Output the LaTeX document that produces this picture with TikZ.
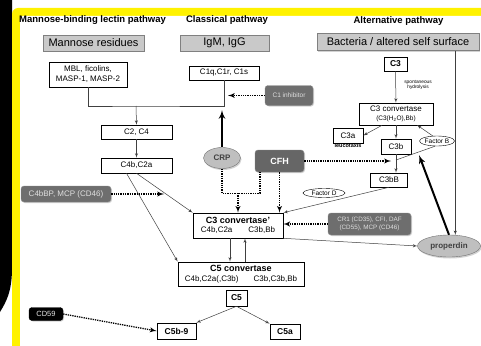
\documentclass[tikz,border=0pt]{standalone}
\usepackage{fontspec}
\setmainfont{Liberation Sans}
\usetikzlibrary{arrows,shapes.geometric,shadows,calc}

\begin{document}
\begin{tikzpicture}[x=1pt,y=-1pt]
  \tikzset{box/.style = {draw, fill=white, line width=0.6pt, inner sep=1pt, align=center, font=\fontsize{8}{9.5}\selectfont}}
  \tikzset{source/.style = {draw=black!50, fill=black!21, line width=0.6pt, minimum height=16pt, inner sep=0pt, font=\fontsize{11}{12}\selectfont, drop shadow={shadow xshift=1.2pt,shadow yshift=-1.2pt,opacity=0.35}}}
  \tikzset{inhibitor/.style = {rounded corners=3pt, fill=black!57, draw=black!45, text=black!12, align=center, inner sep=1pt, drop shadow={shadow xshift=1pt,shadow yshift=-1pt,opacity=0.35}}}
  \tikzset{blob/.style = {ellipse, draw=black!55, fill=black!25, inner sep=0pt, text=black!75, font=\bfseries\fontsize{8}{9}\selectfont, drop shadow={shadow xshift=1pt,shadow yshift=-1.5pt,opacity=0.35}}}
  \tikzset{tag/.style = {ellipse, draw, fill=white, inner sep=0pt, font=\fontsize{6.5}{7}\selectfont}}
  \tikzset{title/.style = {inner sep=0pt, font=\bfseries\fontsize{9.5}{10}\selectfont}}
  \tikzset{link/.style = {->, >=latex', draw=black!75, line width=0.5pt}}
  \tikzset{block/.style = {->, >=latex', line width=1.3pt, densely dotted}}
  \tikzset{boost/.style = {->, >=latex', line width=2pt}}

  % frame
  \useasboundingbox (0,0) rectangle (481,345);
  \begin{scope}
    \clip (0,0) rectangle (481,345);
    \fill[white] (0,0) rectangle (481,345);
    \fill[black] (0,0) -- (12,0) -- (12,268) .. controls (12,292) and (6,302) .. (0,312) -- cycle;
    \fill[yellow, rounded corners=6pt] (12,8) rectangle (500,360);
    \fill[white, rounded corners=3pt] (20,16) rectangle (500,360);
  \end{scope}

  \node[title, anchor=west] (tmbl) at (19,20) {Mannose-binding lectin pathway};
  \node[title] (tcls) at (227,20) {Classical pathway};
  \node[title] (talt) at (398.5,21) {Alternative pathway};

  \node[source, minimum width=101pt] (mann) at (93.5,43) {Mannose residues};
  \node[source, minimum width=89pt] (igm) at (224.5,43) {IgM, IgG};
  \node[source, minimum width=162pt, minimum height=17pt] (bact) at (398,42) {Bacteria / altered self surface};

  % lectin and classical side
  \node[box, minimum width=78pt, minimum height=25pt, font=\fontsize{8}{10}\selectfont] (mbl) at (88,74.5) {MBL, ficolins,\\MASP-1, MASP-2};
  \node[box, minimum width=70pt, minimum height=14pt] (c1q) at (224,73) {C1q,C1r, C1s};
  \node[inhibitor, minimum width=48pt, minimum height=20pt, font=\fontsize{6.5}{7}\selectfont] (c1inh) at (289,95.5) {C1 inhibitor};
  \node[box, minimum width=71pt, minimum height=14pt] (c2c4) at (136.5,132) {C2, C4};
  \node[box, minimum width=71pt, minimum height=15pt] (c4b) at (136.5,165.5) {C4b,C2a};
  \node[inhibitor, minimum width=90pt, minimum height=16pt, font=\fontsize{8}{9}\selectfont] (c4bbp) at (66,194) {C4bBP, MCP (CD46)};
  \node[blob, minimum width=37pt, minimum height=21pt] (crp) at (222,158) {CRP};
  \node[inhibitor, fill=black!60, text=white, minimum width=49pt, minimum height=22pt, font=\bfseries\fontsize{9}{10}\selectfont] (cfh) at (279.5,161) {CFH};

  \node[box, minimum width=90pt, minimum height=25pt] (cvc3) at (238,225.5) {{\bfseries\fontsize{9}{10}\selectfont C3 convertase'}\\C4b,C2a\hspace{16pt}C3b,Bb};
  \node[inhibitor, minimum width=83pt, minimum height=22pt, font=\fontsize{6.3}{7.5}\selectfont] (cr1) at (369.5,224) {CR1 (CD35), CFI, DAF\\(CD55), MCP (CD46)};
  \node[box, minimum width=126pt, minimum height=24pt] (cvc5) at (241,274) {{\bfseries\fontsize{9}{10}\selectfont C5 convertase}\\C4b,C2a(,C3b)\hspace{15pt}C3b,C3b,Bb};
  \node[box, minimum width=21pt, minimum height=16pt, font=\bfseries\fontsize{8.5}{9}\selectfont] (c5) at (236.5,298) {C5};
  \node[box, minimum width=39pt, minimum height=16pt, font=\bfseries\fontsize{8.5}{9}\selectfont] (c5b9) at (176.5,331) {C5b-9};
  \node[box, minimum width=30pt, minimum height=15pt, font=\bfseries\fontsize{8.5}{9}\selectfont] (c5a) at (285,331.5) {C5a};
  \node[inhibitor, fill=black, draw=black, text=black!10, minimum width=34pt, minimum height=13pt, font=\fontsize{7.5}{8}\selectfont] (cd59) at (46,314) {CD59};

  % alternative side
  \node[box, minimum width=23pt, minimum height=14pt, font=\bfseries\fontsize{8.5}{9}\selectfont] (c3) at (395.5,64) {C3};
  \node[align=center, inner sep=0pt, font=\fontsize{4.8}{5.5}\selectfont] (hydro) at (418,85) {spontaneous\\hydrolysis};
  \node[box, minimum width=74pt, minimum height=22pt] (cvalt) at (396,114) {C3 convertase\\{\fontsize{6.5}{7}\selectfont (C3(H\textsubscript{2}O),Bb)}};
  \node[box, minimum width=30pt, minimum height=15pt] (c3a) at (348,135.5) {C3a};
  \node[anchor=north, inner sep=0.5pt, font=\bfseries\fontsize{5.5}{6}\selectfont] (leuco) at (c3a.south) {leucotaxis};
  \node[box, minimum width=30pt, minimum height=15pt] (c3b) at (396,146.5) {C3b};
  \node[box, minimum width=37pt, minimum height=14pt] (c3bb) at (389,180) {C3bB};
  \node[tag, minimum width=35pt, minimum height=10pt] (facb) at (437,141) {Factor B};
  \node[tag, minimum width=42pt, minimum height=9pt] (facd) at (324,193) {Factor D};
  \node[blob, minimum width=63pt, minimum height=22pt] (prop) at (449,246) {properdin};

  \coordinate (join) at (136,106);
  \coordinate (c1tip) at (228,95.5);
  \coordinate (crptip) at (222,110);
  \coordinate (bptip) at (164,194);
  \coordinate (hub) at (238,193);
  \coordinate (fbj) at (396,160);
  \coordinate (fbin) at (417,125);
  \coordinate (cfhtip) at (391,161);
  \coordinate (proptip) at (419,155);

  \draw[draw=black!75, line width=0.5pt] (mbl.south) |- (join) -| (c1q.south);
  \draw[link] (join) -- (c2c4.north);
  \draw[link] (c2c4) -- (c4b);
  \draw[link] (c4b.south) -- (cvc3.north west);
  \draw[link] ($(c4b.south)+(-10,0)$) -- (cvc5.north west);
  \draw[block] (c1inh.west) -- (c1tip);
  \draw[block] (c4bbp.east) -- (bptip);
  \draw[boost] (crp.north) -- (crptip);

  \draw[line width=1.3pt, densely dotted] (crp.south) |- ($(cfh.south)+(-19.5,21)$) -- ($(cfh.south)+(-19.5,0)$);
  \draw[block] (hub) -- (hub |- cvc3.north);
  \draw[block] (cfh.south) -- (cfh.south |- cvc3.north);
  \draw[block] (cfh.east) -- (cfhtip);

  \draw[link] (c3) -- (cvalt);
  \draw[link] ($(cvalt.south)+(-14,0)$) -- (c3a.east);
  \draw[link] (cvalt) -- (c3b);
  \draw[link] (c3b.south) -- (c3b.south |- c3bb.north);
  \draw[draw=black!75, line width=0.5pt] (facb.250) -- (fbj);
  \draw[link] (facb.130) -- (fbin);
  \draw[link] (c3bb.south) -- (cvc3.north east);
  \draw[boost] (prop.north) -- (proptip);
  \draw[link] (bact.south -| prop.60) -- (prop.60);
  \draw[link] (cvc3.south east) -- (prop.west);
  \draw[block] (cr1.west) -- (cvc3.east |- cr1.west);

  \draw[link] ($(cvc3.south)+(-8,0)$) -- ($(cvc5.north)+(-11,0)$);
  \draw[link] ($(cvc5.north)+(4,0)$) -- ($(cvc3.south)+(7,0)$);
  \draw[link] (c5.south) -- (c5b9.north east);
  \draw[link] (c5.south) -- (c5a.north west);
  \draw[block] (cd59.east) -- (c5b9.west);
\end{tikzpicture}
\end{document}
